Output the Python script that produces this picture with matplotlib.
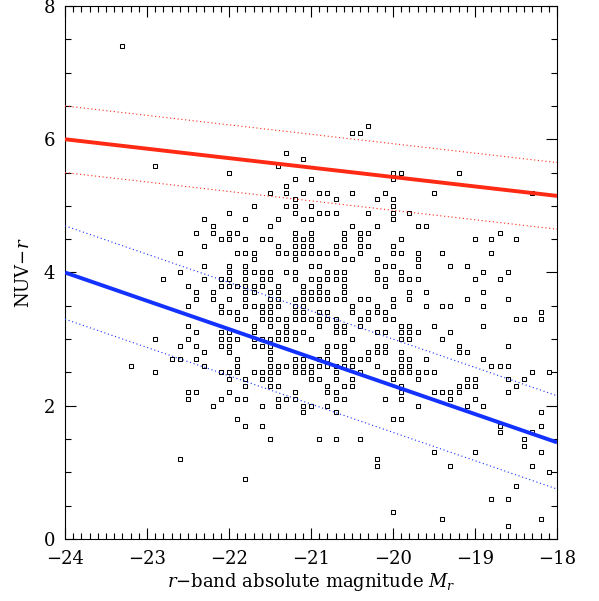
import matplotlib
matplotlib.use("Agg")
import matplotlib.pyplot as plt
from matplotlib.ticker import MultipleLocator
import numpy as np

plt.rcParams['font.family'] = ['DejaVu Serif']
plt.rcParams['mathtext.fontset'] = 'dejavuserif'

# ---- data: (NUV-r colour row, list of absolute magnitudes in that row) ----
rows_y = [7.4, 6.2, 6.1, 5.8, 5.7, 5.6, 5.5, 5.4, 5.3, 5.2, 5.1, 5.0, 4.9, 4.8, 4.7, 4.6, 4.5, 4.4, 4.3, 4.2,
          4.1, 4.0, 3.9, 3.8, 3.7, 3.6, 3.5, 3.4, 3.3, 3.2, 3.1, 3.0, 2.9, 2.8, 2.7, 2.6, 2.5, 2.4, 2.3, 2.2,
          2.1, 2.0, 1.9, 1.8, 1.7, 1.6, 1.5, 1.4, 1.3, 1.2, 1.1, 1.0, 0.9, 0.8, 0.6, 0.4, 0.3, 0.2]
rows_mag = [
    [-23.3],
    [-20.3],
    [-20.5, -20.4],
    [-21.3],
    [-21.1],
    [-22.9, -21.4],
    [-22.0, -20.0, -19.9, -19.2],
    [-21.2, -21.0, -20.0],
    [-21.3],
    [-21.5, -21.3, -21.1, -20.9, -20.8, -20.5, -20.1, -19.5, -18.3],
    [-21.2, -20.7, -20.2, -20.0],
    [-21.7, -21.3, -21.2, -21.0, -20.0],
    [-22.0, -21.2, -20.9, -20.8, -20.7, -20.3, -20.0, -19.8],
    [-22.3, -21.8, -21.4, -21.1, -21.0, -20.0],
    [-22.2, -21.5, -20.5, -20.2, -19.7, -19.6],
    [-22.4, -22.2, -22.0, -21.9, -21.2, -21.0, -20.6, -20.4, -20.3, -18.7],
    [-22.1, -22.0, -21.8, -21.6, -21.5, -21.2, -21.1, -21.0, -20.6, -20.4, -19.9, -19.0, -18.8, -18.5],
    [-22.3, -21.4, -21.2, -21.1, -21.0, -20.7, -20.6, -20.4, -20.3, -20.0],
    [-22.6, -21.9, -21.8, -21.7, -21.4, -21.3, -21.2, -21.1, -21.0, -20.9, -20.8, -20.7, -20.4, -20.0,
     -19.9, -19.7, -19.4, -18.8],
    [-21.7, -21.2, -20.6, -20.5, -20.2, -19.7],
    [-22.3, -22.0, -21.8, -21.0, -20.9, -20.1, -20.0, -19.7, -19.3, -19.1],
    [-22.6, -22.0, -21.8, -21.7, -21.6, -21.5, -21.3, -21.2, -20.8, -20.7, -20.6, -20.2, -19.9, -18.9, -18.6],
    [-22.8, -22.3, -22.1, -22.0, -21.8, -21.6, -21.5, -21.2, -21.0, -20.9, -20.8, -20.7, -20.6, -20.2,
     -20.1, -19.9, -19.8, -19.7, -19.0, -18.7],
    [-22.5, -22.1, -22.0, -21.9, -21.8, -21.7, -21.6, -21.4, -21.1, -20.9, -20.6, -20.1],
    [-22.4, -22.2, -21.8, -21.7, -21.5, -21.4, -21.1, -21.0, -20.9, -20.8, -20.6, -19.8, -19.6, -18.9],
    [-22.4, -22.2, -22.0, -21.8, -21.5, -21.4, -21.2, -21.1, -21.0, -20.9, -20.8, -20.7, -20.6, -20.4,
     -20.3, -20.0, -19.8, -19.1, -18.6],
    [-22.5, -22.1, -21.8, -21.7, -21.6, -21.5, -21.4, -21.2, -21.1, -20.5, -20.2, -20.0, -19.6, -19.4,
     -19.3, -18.9],
    [-22.1, -22.0, -21.9, -21.6, -21.5, -21.2, -21.1, -20.9, -20.8, -20.5, -20.3, -20.2, -20.1, -18.2],
    [-21.9, -21.8, -21.6, -21.5, -21.4, -21.3, -21.2, -21.1, -21.0, -20.9, -20.8, -20.7, -20.4, -20.3,
     -20.1, -20.0, -18.5, -18.4, -18.2],
    [-22.5, -21.7, -21.5, -21.3, -20.9, -20.7, -20.6, -20.4, -19.9, -19.8, -19.5, -18.9],
    [-22.4, -22.1, -22.0, -21.7, -21.4, -21.3, -21.2, -21.1, -20.7, -20.6, -20.2, -20.1, -19.9, -19.8,
     -19.7, -19.3],
    [-22.9, -22.5, -22.1, -22.0, -21.9, -21.7, -21.6, -21.5, -21.4, -21.3, -21.2, -21.0, -20.5, -19.9,
     -19.8, -19.4],
    [-22.6, -22.4, -22.1, -22.0, -21.7, -21.6, -21.5, -20.8, -20.7, -20.6, -20.2, -20.1, -19.2, -18.6],
    [-22.3, -22.0, -21.5, -20.8, -20.6, -20.3, -20.2, -20.1, -19.9, -19.2, -19.1],
    [-22.7, -22.6, -22.4, -21.9, -21.5, -21.2, -21.1, -20.9, -20.8, -20.6, -20.5, -20.4, -20.3, -19.9,
     -19.8, -19.6, -18.9],
    [-23.2, -22.3, -21.9, -21.5, -21.4, -21.3, -21.2, -21.1, -21.0, -20.9, -20.8, -20.7, -20.6, -20.5,
     -20.2, -19.9, -19.8, -18.8, -18.7, -18.6],
    [-22.9, -22.1, -22.0, -21.9, -21.7, -21.6, -21.5, -21.4, -21.2, -21.1, -21.0, -20.7, -20.4, -20.1,
     -20.0, -19.9, -19.8, -19.7, -19.6, -19.5, -18.3, -18.1],
    [-22.0, -21.8, -21.6, -21.5, -21.0, -20.9, -20.7, -20.5, -20.0, -19.7, -19.1, -19.0, -18.6, -18.4],
    [-21.8, -21.5, -21.4, -20.8, -20.6, -20.5, -19.9, -19.2, -19.1, -19.0, -18.5],
    [-22.5, -22.4, -22.0, -21.2, -20.8, -20.7, -19.9, -19.5, -19.4, -19.3, -19.2, -18.6],
    [-22.5, -22.1, -21.9, -21.8, -21.4, -21.3, -21.2, -20.7, -20.6, -20.1, -19.9, -19.3, -19.0],
    [-22.2, -21.6, -21.4, -21.1, -21.0, -20.8, -19.7, -19.1, -18.9],
    [-21.1, -20.7, -18.2],
    [-21.9, -20.0, -19.9],
    [-21.8, -21.6, -18.7, -18.2],
    [-18.7, -18.3],
    [-21.5, -20.9, -20.7, -20.4, -18.4],
    [-18.4],
    [-19.5, -19.0, -18.2],
    [-22.6, -20.2],
    [-20.2, -19.3, -18.3],
    [-18.1],
    [-21.8],
    [-18.5],
    [-18.8, -18.6],
    [-20.0],
    [-19.4, -18.2],
    [-18.6],
]

# relation lines (endpoints at Mr = -24 and -18)
line_x = [-24.0, -18.0]
red_y = [6.0, 5.15]
red_width = 0.5
blue_y = [4.0, 1.45]
blue_width = 0.7

mag = [m for ms in rows_mag for m in ms]
nuv_r = [y for y, ms in zip(rows_y, rows_mag) for _ in ms]

fig = plt.figure(figsize=(5.99, 6.01), dpi=100)
ax = fig.add_axes([0.1085, 0.1032, 0.8214, 0.8868])

ax.plot(mag, nuv_r, linestyle='none', marker='s', markersize=2.4,
        markerfacecolor='white', markeredgecolor='black', markeredgewidth=0.75, zorder=3)

red = '#ff2a14'
blue = '#1432ff'
lx = np.array(line_x)
dot = (0, (1, 2.4))
ax.plot(lx, red_y, color=red, lw=2.8, solid_capstyle='butt', zorder=4)
ax.plot(lx, np.array(red_y) + red_width, color=red, lw=0.8, linestyle=dot, zorder=4)
ax.plot(lx, np.array(red_y) - red_width, color=red, lw=0.8, linestyle=dot, zorder=4)
ax.plot(lx, blue_y, color=blue, lw=2.8, solid_capstyle='butt', zorder=4)
ax.plot(lx, np.array(blue_y) + blue_width, color=blue, lw=0.8, linestyle=dot, zorder=4)
ax.plot(lx, np.array(blue_y) - blue_width, color=blue, lw=0.8, linestyle=dot, zorder=4)

ax.set_xlim(-24, -18)
ax.set_ylim(0, 8)
ax.xaxis.set_major_locator(MultipleLocator(1))
ax.xaxis.set_minor_locator(MultipleLocator(0.1))
ax.yaxis.set_major_locator(MultipleLocator(2))
ax.yaxis.set_minor_locator(MultipleLocator(0.5))
ax.tick_params(which='both', direction='in', top=True, right=True, width=0.8, labelsize=13)
ax.tick_params(which='major', length=8)
ax.tick_params(which='minor', length=4)
ax.tick_params(axis='x', pad=8)
ax.tick_params(axis='y', pad=7)
for s in ax.spines.values():
    s.set_linewidth(0.8)

ax.set_xlabel('$r$\u2212band absolute magnitude $M_r$', fontsize=13, labelpad=2)
ax.set_ylabel('NUV\u2212$r$', fontsize=13, labelpad=8)

fig.savefig('out.png', dpi=100)
